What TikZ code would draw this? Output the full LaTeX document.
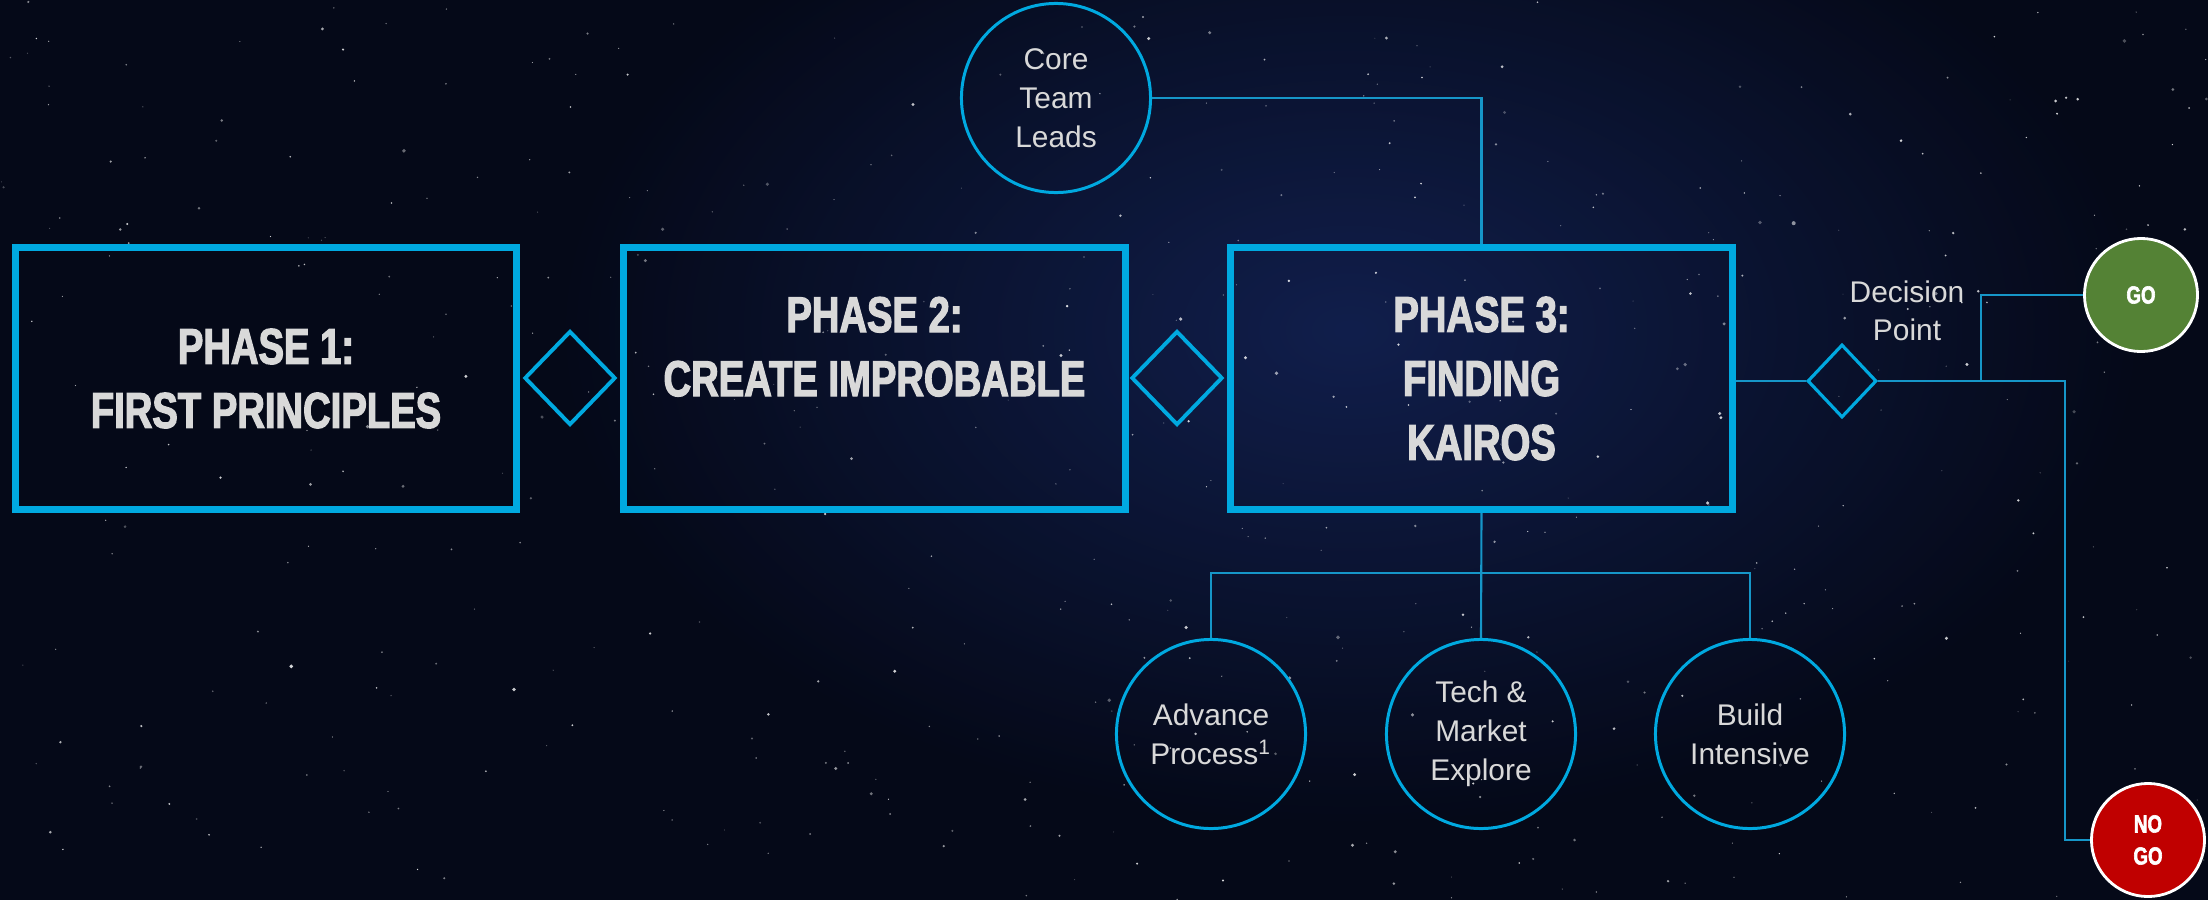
\documentclass[tikz,border=0pt]{standalone}
\usepackage{fontspec}
\setmainfont{Liberation Sans}
\newfontfamily\phasefont[FakeStretch=0.76,FakeBold=2.4]{Liberation Sans}
\usetikzlibrary{shapes.geometric}

\definecolor{nightsky}{RGB}{5,9,24}
\definecolor{milkyway}{RGB}{22,40,98}
\definecolor{frameblue}{RGB}{0,169,224}
\definecolor{wireblue}{RGB}{22,150,200}
\definecolor{chalk}{RGB}{217,217,217}
\definecolor{gogreen}{RGB}{84,130,53}
\definecolor{stopred}{RGB}{192,0,0}

\begin{document}
\begin{tikzpicture}[x=0.01cm, y=-0.01cm,
  phasebox/.style={draw=frameblue, line width=2pt, minimum width=5.01cm, minimum height=2.62cm,
    inner sep=0pt, text=chalk, align=center, font=\phasefont\bfseries\fontsize{14.3}{18.2}\selectfont},
  gate/.style={diamond, draw=frameblue, line width=1.1pt, minimum width=0.91cm, minimum height=0.94cm, inner sep=0pt},
  member/.style={circle, draw=frameblue, line width=0.85pt, minimum size=1.89cm, inner sep=0pt,
    text=chalk, align=center, font=\fontsize{8.5}{11.1}\selectfont},
  outcome/.style={circle, draw=white, line width=0.8pt, minimum size=1.13cm, inner sep=0pt,
    text=white, align=center, font=\phasefont\bfseries\fontsize{7}{9.1}\selectfont},
  link/.style={draw=wireblue, line width=0.6pt}]

% sky
\useasboundingbox (0,0) rectangle (2208,900);
\fill[nightsky] (0,0) rectangle (2208,900);
\shade[inner color=milkyway, outer color=nightsky, opacity=0.7] (1350,330) ellipse (8cm and 5cm);
\pgfmathsetseed{17}
\foreach \s in {1,...,500}{
  \pgfmathsetmacro{\sx}{rnd*2208}
  \pgfmathsetmacro{\sy}{rnd*900}
  \pgfmathsetmacro{\sr}{0.15+0.45*rnd*rnd}
  \pgfmathsetmacro{\so}{0.25+0.6*rnd}
  \fill[white, opacity=\so] (\sx,\sy) circle (\sr pt);
}

% phases
\node[phasebox] (p1) at (266,378.5) {PHASE 1:\\FIRST PRINCIPLES};
\node[phasebox] (p2) at (874.5,378.5) {PHASE 2:\\CREATE IMPROBABLE\\\mbox{}};
\node[phasebox] (p3) at (1481.5,378.5) {PHASE 3:\\FINDING\\KAIROS};
\node[gate] (g1) at (570,378) {};
\node[gate] (g2) at (1177,378) {};

% team
\node[member] (core) at (1056,98) {Core\\Team\\Leads};
\node[member] (adv) at (1211,734) {Advance\\Process\textsuperscript{1}};
\node[member] (tech) at (1481,734) {Tech \&\\Market\\Explore};
\node[member] (build) at (1750,734) {Build\\Intensive};
\coordinate (bus) at (1481,573);
\draw[link] (core.east) -| (p3.north);
\draw[link] (p3.south) -- (tech.north);
\draw[link] (adv.north) |- (bus) -| (build.north);

% decision
\node[gate, line width=0.9pt, minimum width=0.69cm, minimum height=0.73cm] (dec) at (1842,381) {};
\node[text=chalk, align=center, font=\fontsize{8.5}{10.8}\selectfont] (declabel) at (1907,311) {Decision\\Point};
\node[outcome, fill=gogreen] (go) at (2141,295) {GO};
\node[outcome, fill=stopred] (nogo) at (2148,840) {NO\\GO};
\coordinate (gofork) at (1981,381);
\coordinate (nogofork) at (2065,381);
\draw[link] (dec.west -| p3.east) -- (dec.west);
\draw[link] (dec.east) -- (nogofork) |- (nogo.west);
\draw[link] (gofork) |- (go.west);
\end{tikzpicture}
\end{document}
